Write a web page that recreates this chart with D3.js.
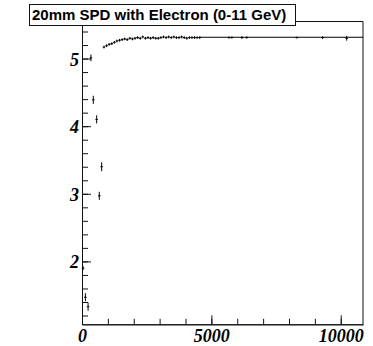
<!DOCTYPE html>
<html>
<head>
<meta charset="utf-8">
<script src="https://cdn.jsdelivr.net/npm/d3@7"></script>
<style>
	html, body { margin: 0; padding: 0; background: #fff; }
	svg { display: block; }
</style>
</head>
<body>
<svg id="chart" width="373" height="346"></svg>
<script>
	'use strict';

	//chart data
	var title = '20mm SPD with Electron (0-11 GeV)',
		xLabels = [0, 5000, 10000],
		yLabels = [2, 3, 4, 5],

		//low energy points, read one by one
		lowEnergy = [40, 130, 235, 345, 436, 567, 668, 760],
		lowSignal = [1.90, 1.47, 1.33, 5.01, 4.39, 4.10, 2.97, 3.40],
		lowError = [0.03, 0.06, 0.06, 0.05, 0.06, 0.06, 0.06, 0.066],

		//rising part of the curve
		curveEnergy = [850, 950, 1050, 1150, 1250, 1350, 1450, 1550, 1650, 1750,
			1850, 1950, 2050, 2150, 2250, 2350, 2450, 2550, 2650, 2750,
			2850, 2950, 3050, 3150, 3250, 3350, 3450, 3550, 3650, 3750,
			3850, 3950, 4050, 4150, 4250, 4350, 4450, 4550],
		curveSignal = [5.17, 5.19, 5.21, 5.22, 5.24, 5.26, 5.27, 5.28, 5.29, 5.28,
			5.30, 5.29, 5.30, 5.31, 5.30, 5.32, 5.30, 5.31, 5.30, 5.31,
			5.30, 5.30, 5.31, 5.32, 5.31, 5.32, 5.31, 5.32, 5.31, 5.31,
			5.32, 5.31, 5.30, 5.31, 5.31, 5.31, 5.31, 5.31],

		//few points at high energy
		tailEnergy = [5680, 5790, 6180, 6370, 8300, 9300, 10230],
		tailSignal = [5.31, 5.31, 5.31, 5.31, 5.31, 5.31, 5.30],
		tailError = [0.015, 0.015, 0.02, 0.015, 0.015, 0.02, 0.035],

		plateau = 5.315,
		binHalf = 50,
		xRange = [0, 10860],
		yRange = [1.07, 5.548];

	var svg = d3.select('#chart'),
		x = d3.scaleLinear().domain(xRange).range([82, 363]),
		y = d3.scaleLinear().domain(yRange).range([324.3, 21.5]),
		tickFont = '"Liberation Serif", "Times New Roman", serif';

	function styleAxis(g, major) {
		g.select('.domain').attr('stroke', '#111').attr('stroke-width', 1);
		g.selectAll('.tick line').attr('stroke', '#111').attr('stroke-width', 1);
		if (major) {
			g.selectAll('text')
				.attr('fill', '#000')
				.attr('font-family', null)
				.style('font-family', tickFont)
				.style('font-weight', 'bold')
				.style('font-style', 'italic')
				.style('font-size', '18px');
		}
	}

	function drawCross(g, ex, ey, err) {
		var px = x(ex),
			py = y(ey);
		g.append('line')
			.attr('x1', x(ex - binHalf)).attr('x2', x(ex + binHalf))
			.attr('y1', py).attr('y2', py);
		g.append('line')
			.attr('x1', px).attr('x2', px)
			.attr('y1', y(ey - err)).attr('y2', y(ey + err));
	}

	//frame (top and right)
	svg.append('path')
		.attr('d', 'M' + x(xRange[0]) + ',' + y(yRange[1]) +
			'H' + x(xRange[1]) + 'V' + y(yRange[0]))
		.attr('fill', 'none')
		.attr('stroke', '#111')
		.attr('stroke-width', 1);

	//minor ticks
	svg.append('g')
		.attr('transform', 'translate(' + x(0) + ',0)')
		.call(d3.axisLeft(y).tickValues(d3.range(12, 55, 2).map(function(v) { return v / 10; }))
			.tickSize(-6).tickSizeOuter(0).tickFormat(''))
		.call(styleAxis, false);

	svg.append('g')
		.attr('transform', 'translate(0,' + y(yRange[0]) + ')')
		.call(d3.axisBottom(x).tickValues(d3.range(1000, 10001, 1000))
			.tickSize(-5.5).tickSizeOuter(0).tickFormat(''))
		.call(styleAxis, false);

	//major ticks and labels
	svg.append('g')
		.attr('transform', 'translate(' + x(0) + ',0)')
		.call(d3.axisLeft(y).tickValues(yLabels).tickSize(-9).tickSizeOuter(0)
			.tickPadding(3).tickFormat(String))
		.call(styleAxis, true)
		.selectAll('text').attr('dy', '0.36em');

	svg.append('g')
		.attr('transform', 'translate(0,' + y(yRange[0]) + ')')
		.call(d3.axisBottom(x).tickValues(xLabels).tickSize(-9).tickSizeOuter(0)
			.tickPadding(5).tickFormat(String))
		.call(styleAxis, true);

	//data
	var marks = svg.append('g')
		.attr('stroke', '#000')
		.attr('stroke-width', 1);

	lowEnergy.forEach(function(e, i) {
		drawCross(marks, e, lowSignal[i], lowError[i]);
	});

	curveEnergy.forEach(function(e, i) {
		drawCross(marks, e, curveSignal[i], 0.02);
	});

	marks.append('line')
		.attr('x1', x(curveEnergy[curveEnergy.length - 1])).attr('x2', x(xRange[1]))
		.attr('y1', y(plateau)).attr('y2', y(plateau));

	tailEnergy.forEach(function(e, i) {
		drawCross(marks, e, tailSignal[i], tailError[i]);
	});

	//title box
	var titleG = svg.append('g');
	titleG.append('rect')
		.attr('x', 29.5).attr('y', 4.5)
		.attr('width', 266).attr('height', 21)
		.attr('fill', '#fff')
		.attr('stroke', '#111')
		.attr('stroke-width', 1);
	titleG.append('text')
		.attr('x', 32).attr('y', 19.5)
		.attr('fill', '#000')
		.style('font-family', '"Liberation Sans", Arial, Helvetica, sans-serif')
		.style('font-weight', 'bold')
		.style('font-size', '15px')
		.text(title);
</script>
</body>
</html>
